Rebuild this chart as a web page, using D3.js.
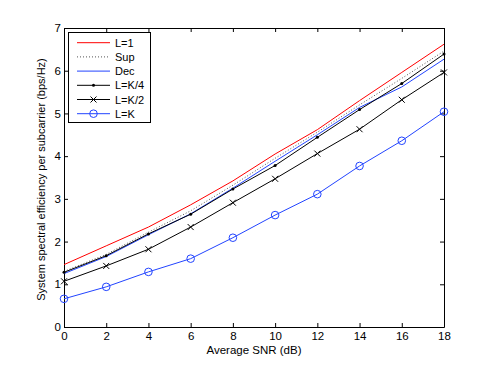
<!DOCTYPE html>
<html>
<head>
<meta charset="utf-8">
<script src="https://cdn.jsdelivr.net/npm/d3@7"></script>
<style>
  body { margin: 0; background: #fff; }
  text { font-family: "Liberation Sans", Arial, sans-serif; }
</style>
</head>
<body>
<svg id="chart" width="491" height="369"></svg>
<script>
// data
var snr = [0, 2, 4, 6, 8, 10, 12, 14, 16, 18];
var seriesL1   = [1.46, 1.90, 2.34, 2.86, 3.42, 4.05, 4.62, 5.30, 5.96, 6.62];
var seriesSup  = [1.30, 1.70, 2.22, 2.72, 3.32, 3.95, 4.56, 5.20, 5.82, 6.46];
var seriesDec  = [1.25, 1.65, 2.16, 2.65, 3.25, 3.88, 4.50, 5.14, 5.62, 6.27];
var seriesLK4  = [1.28, 1.67, 2.18, 2.64, 3.23, 3.78, 4.44, 5.09, 5.70, 6.39];
var seriesLK2  = [1.07, 1.43, 1.82, 2.34, 2.91, 3.47, 4.06, 4.63, 5.32, 5.96];
var seriesLK   = [0.66, 0.94, 1.29, 1.60, 2.09, 2.62, 3.11, 3.77, 4.36, 5.04];
var xTicks = [0, 2, 4, 6, 8, 10, 12, 14, 16, 18];
var yTicks = [0, 1, 2, 3, 4, 5, 6, 7];

var series = [
  {name: "L=1",   values: seriesL1,  color: "#ff0000", dash: null,  marker: "none"},
  {name: "Sup",   values: seriesSup, color: "#555",    dash: "1,2", marker: "none"},
  {name: "Dec",   values: seriesDec, color: "#2244ff", dash: null,  marker: "none"},
  {name: "L=K/4", values: seriesLK4, color: "#000",    dash: null,  marker: "dot"},
  {name: "L=K/2", values: seriesLK2, color: "#000",    dash: null,  marker: "x"},
  {name: "L=K",   values: seriesLK,  color: "#2244ff", dash: null,  marker: "circle"}
];

var svg = d3.select("#chart");
var plotLeft = 64, plotRight = 444, plotTop = 28, plotBottom = 327;

var x = d3.scaleLinear().domain([0, 18]).range([plotLeft, plotRight]);
var y = d3.scaleLinear().domain([0, 7]).range([plotBottom, plotTop]);

// axes, matlab style: ticks inside, box all round
svg.append("g").attr("transform", "translate(0," + plotBottom + ")")
  .call(d3.axisBottom(x).tickValues(xTicks).tickFormat(d3.format("d"))
    .tickSizeInner(-4).tickSizeOuter(0).tickPadding(5));
svg.append("g").attr("transform", "translate(" + plotLeft + ",0)")
  .call(d3.axisLeft(y).tickValues(yTicks).tickFormat(d3.format("d"))
    .tickSizeInner(-4).tickSizeOuter(0).tickPadding(3));
svg.append("g").attr("transform", "translate(0," + plotTop + ")")
  .call(d3.axisTop(x).tickValues(xTicks).tickSizeInner(-4).tickSizeOuter(0).tickFormat(""));
svg.append("g").attr("transform", "translate(" + plotRight + ",0)")
  .call(d3.axisRight(y).tickValues(yTicks).tickSizeInner(-4).tickSizeOuter(0).tickFormat(""));

svg.selectAll(".tick text").attr("font-size", 11.5).attr("fill", "#000")
  .style("font-family", "'Liberation Sans', Arial, sans-serif");
svg.selectAll(".domain").attr("stroke", "#000");
svg.selectAll(".tick line").attr("stroke", "#000");

// lines
var line = d3.line()
  .x(function(d, i) { return x(snr[i]); })
  .y(function(d) { return y(d); });

series.forEach(function(s) {
  svg.append("path")
    .datum(s.values)
    .attr("d", line)
    .attr("fill", "none")
    .attr("stroke", s.color)
    .attr("stroke-width", 1)
    .attr("stroke-dasharray", s.dash);
});

function drawMarker(g, type, cx, cy, color) {
  if (type == "dot") {
    g.append("circle").attr("cx", cx).attr("cy", cy).attr("r", 1.5).attr("fill", color);
  } else if (type == "x") {
    g.append("path")
      .attr("d", "M" + (cx - 3) + "," + (cy - 3) + "L" + (cx + 3) + "," + (cy + 3) +
                 "M" + (cx - 3) + "," + (cy + 3) + "L" + (cx + 3) + "," + (cy - 3))
      .attr("stroke", color).attr("stroke-width", 1);
  } else if (type == "circle") {
    g.append("circle").attr("cx", cx).attr("cy", cy).attr("r", 3.8)
      .attr("fill", "none").attr("stroke", color).attr("stroke-width", 1);
  }
}

series.forEach(function(s) {
  if (s.marker == "none") return;
  var g = svg.append("g");
  s.values.forEach(function(v, i) {
    drawMarker(g, s.marker, x(snr[i]), y(v), s.color);
  });
});

// legend
var legend = svg.append("g");
legend.append("rect")
  .attr("x", 68.5).attr("y", 32.5).attr("width", 82).attr("height", 90)
  .attr("fill", "#fff").attr("stroke", "#000").attr("stroke-width", 1);

series.forEach(function(s, i) {
  var ly = 42.7 + i * 14.2;
  legend.append("line")
    .attr("x1", 77).attr("x2", 110).attr("y1", ly).attr("y2", ly)
    .attr("stroke", s.color).attr("stroke-width", 1)
    .attr("stroke-dasharray", s.dash);
  drawMarker(legend, s.marker, 93.5, ly, s.color);
  legend.append("text")
    .attr("x", 115).attr("y", ly + 4)
    .attr("font-size", 11)
    .text(s.name);
});

// axis labels
svg.append("text")
  .attr("x", (plotLeft + plotRight) / 2).attr("y", 354)
  .attr("text-anchor", "middle").attr("font-size", 11.5)
  .text("Average SNR (dB)");

svg.append("text")
  .attr("transform", "translate(45," + ((plotTop + plotBottom) / 2 + 2) + ") rotate(-90)")
  .attr("text-anchor", "middle").attr("font-size", 11)
  .text("System spectral efficiency per subcarrier (bps/Hz)");
</script>
</body>
</html>
